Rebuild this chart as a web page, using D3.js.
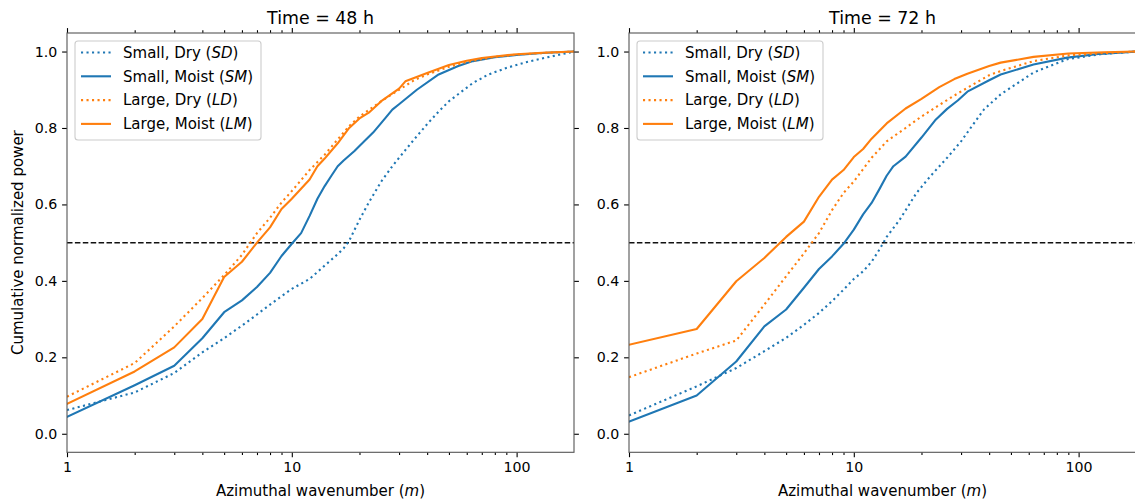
<!DOCTYPE html>
<html><head><meta charset="utf-8">
<script src="https://cdn.jsdelivr.net/npm/d3@7"></script>
<style>
body{margin:0;background:#fff}
svg{display:block}
text{font-family:"DejaVu Sans",sans-serif;fill:#000}
</style>
</head><body>
<svg id="c" width="1135" height="501"></svg>
<script>
// ---------- data ----------
const panelTitles = ["Time = 48 h", "Time = 72 h"];
const xTickLabels = ["1", "10", "100"];
const xMajorTicks = [1, 10, 100];
const xMinorTicks = [2,3,4,5,6,7,8,9,20,30,40,50,60,70,80,90];
const yTickValues = [0, 0.2, 0.4, 0.6, 0.8, 1.0];
const yTickLabels = ["0.0","0.2","0.4","0.6","0.8","1.0"];
const refLevel = 0.5;
const xLabel = "Azimuthal wavenumber (";
const yLabel = "Cumulative normalized power";
const seriesNames = ["Small, Dry", "Small, Moist", "Large, Dry", "Large, Moist"];
const seriesAbbr = ["SD", "SM", "LD", "LM"];

// Time = 48 h
const m48_SD = [1,2,3,4,5,6,7,8,9,10,12,14,16,17,18,20,22,25,28,30,35,40,45,50,64,75,90,110,126,150,180];
const v48_SD = [0.062,0.108,0.159,0.213,0.25,0.283,0.312,0.338,0.36,0.379,0.405,0.44,0.47,0.485,0.505,0.56,0.605,0.66,0.70,0.722,0.77,0.81,0.843,0.87,0.918,0.94,0.957,0.972,0.98,0.99,1.0];
const m48_SM = [1,2,3,4,5,6,7,8,9,10,11,12,13,14,15,16,17,19,21,23,26,28,30,36,45,55,64,80,100,130,180];
const v48_SM = [0.044,0.127,0.178,0.25,0.318,0.349,0.384,0.421,0.465,0.497,0.525,0.57,0.615,0.648,0.675,0.70,0.715,0.74,0.765,0.788,0.825,0.848,0.862,0.90,0.94,0.962,0.975,0.985,0.991,0.996,1.0];
const m48_LD = [1,2,3,4,5,6,7,8,9,10,12,14,16,18,20,25,30,35,40,50,60,70,80,100,130,180];
const v48_LD = [0.097,0.185,0.281,0.355,0.415,0.468,0.525,0.565,0.605,0.635,0.69,0.73,0.77,0.805,0.83,0.87,0.90,0.925,0.94,0.96,0.973,0.98,0.986,0.992,0.996,1.0];
const m48_LM = [1,2,3,4,5,6,7,8,9,10,12,13,14,16,18,20,22,25,30,32,40,50,60,70,80,100,130,180];
const v48_LM = [0.078,0.163,0.226,0.300,0.410,0.450,0.500,0.540,0.588,0.615,0.665,0.70,0.72,0.76,0.80,0.825,0.84,0.87,0.903,0.922,0.944,0.965,0.976,0.983,0.987,0.993,0.997,1.0];

// Time = 72 h
const m72_SD = [1,2,3,4,5,6,7,8,9,10,11,12,13,14,16,19,22,26,30,34,38,45,63,89,125,180];
const v72_SD = [0.048,0.124,0.172,0.216,0.251,0.285,0.316,0.347,0.377,0.405,0.425,0.45,0.482,0.515,0.56,0.63,0.675,0.722,0.765,0.81,0.849,0.888,0.945,0.98,0.993,1.0];
const m72_SM = [1,2,3,4,5,6,7,8,9,10,11,12,13,14,15,17,20,23,26,29,32,40,45,63,89,125,180];
const v72_SM = [0.032,0.10,0.189,0.281,0.325,0.382,0.431,0.464,0.497,0.534,0.574,0.604,0.64,0.675,0.70,0.725,0.775,0.82,0.85,0.872,0.895,0.925,0.94,0.966,0.984,0.994,1.0];
const m72_LD = [1,2,3,4,5,6,7,8,9,10,12,14,17,20,24,28,32,40,45,63,90,130,180];
const v72_LD = [0.148,0.21,0.244,0.338,0.412,0.472,0.525,0.585,0.63,0.66,0.722,0.765,0.80,0.83,0.86,0.885,0.905,0.938,0.949,0.975,0.99,0.996,1.0];
const m72_LM = [1,2,3,4,5,6,7,8,9,10,11,12,14,17,20,24,28,32,40,45,63,90,130,180];
const v72_LM = [0.233,0.274,0.399,0.46,0.515,0.555,0.62,0.665,0.69,0.724,0.745,0.772,0.812,0.851,0.876,0.907,0.928,0.942,0.962,0.971,0.986,0.995,0.998,1.0];

const panelSeries = [
  [[m48_SD, v48_SD], [m48_SM, v48_SM], [m48_LD, v48_LD], [m48_LM, v48_LM]],
  [[m72_SD, v72_SD], [m72_SM, v72_SM], [m72_LD, v72_LD], [m72_LM, v72_LM]]
];

// ---------- styles ----------
const colors = ["#1f77b4", "#1f77b4", "#ff7f0e", "#ff7f0e"];
const dashes = ["2.1,3.4", null, "2.1,3.4", null];
const lw = 2.1;
const panelLeft = [67, 629];
const panelW = 507;
const plotTop = 33, plotBottom = 452.3;
const xDomain = [1, 180];
const yDomain = [-0.0485, 1.0485];
const spineColor = "#555";
const tickFont = 14.2, labelFont = 15, titleFont = 17.4, legendFont = 15;

const svg = d3.select("#c");

panelTitles.forEach((title, p) => {
  const x0 = panelLeft[p];
  const x = d3.scaleLog().domain(xDomain).range([x0, x0 + panelW]);
  const y = d3.scaleLinear().domain(yDomain).range([plotBottom, plotTop]);
  const g = svg.append("g");

  const cid = "clip" + p;
  svg.append("clipPath").attr("id", cid).append("rect")
    .attr("x", x0).attr("y", plotTop).attr("width", panelW).attr("height", plotBottom - plotTop);

  g.append("line")
    .attr("x1", x0).attr("x2", x0 + panelW)
    .attr("y1", y(refLevel)).attr("y2", y(refLevel))
    .attr("stroke", "#111").attr("stroke-width", 1.5)
    .attr("stroke-dasharray", "5.5,2.4");

  const line = d3.line().x(d => x(d[0])).y(d => y(d[1]));
  panelSeries[p].forEach((s, i) => {
    const pts = s[0].map((m, k) => [m, s[1][k]]);
    g.append("path").datum(pts)
      .attr("d", line)
      .attr("fill", "none")
      .attr("stroke", colors[i])
      .attr("stroke-width", lw)
      .attr("stroke-dasharray", dashes[i])
      .attr("stroke-linejoin", "round")
      .attr("stroke-linecap", dashes[i] ? "butt" : "square")
      .attr("clip-path", `url(#${cid})`);
  });

  const fmtX = d => xTickLabels[xMajorTicks.indexOf(d)];
  const axB = g.append("g").attr("transform", `translate(0,${plotBottom})`)
    .call(d3.axisBottom(x).tickValues(xMajorTicks).tickFormat(fmtX).tickSizeInner(4.9).tickSizeOuter(0).tickPadding(4.9));
  const axBm = g.append("g").attr("transform", `translate(0,${plotBottom})`)
    .call(d3.axisBottom(x).tickValues(xMinorTicks).tickFormat("").tickSizeInner(2.8).tickSizeOuter(0));
  const axT = g.append("g").attr("transform", `translate(0,${plotTop})`)
    .call(d3.axisTop(x).tickValues(xMajorTicks).tickFormat("").tickSizeInner(4.9).tickSizeOuter(0));
  const axTm = g.append("g").attr("transform", `translate(0,${plotTop})`)
    .call(d3.axisTop(x).tickValues(xMinorTicks).tickFormat("").tickSizeInner(2.8).tickSizeOuter(0));
  const axL = g.append("g").attr("transform", `translate(${x0},0)`)
    .call(d3.axisLeft(y).tickValues(yTickValues).tickFormat((d, i) => yTickLabels[i]).tickSizeInner(4.9).tickSizeOuter(0).tickPadding(4.9));
  const axR = g.append("g").attr("transform", `translate(${x0 + panelW},0)`)
    .call(d3.axisRight(y).tickValues(yTickValues).tickFormat("").tickSizeInner(4.9).tickSizeOuter(0));
  [axB, axBm, axT, axTm, axL, axR].forEach(a => {
    a.select(".domain").remove();
    a.selectAll(".tick line").attr("stroke", "#000").attr("stroke-width", 1.1);
    a.selectAll(".tick text").attr("font-size", tickFont).attr("font-family", "DejaVu Sans").attr("fill", "#000");
  });

  g.append("rect").attr("x", x0).attr("y", plotTop).attr("width", panelW).attr("height", plotBottom - plotTop)
    .attr("fill", "none").attr("stroke", spineColor).attr("stroke-width", 1.1);

  g.append("text").attr("x", x0 + panelW / 2).attr("y", plotTop - 9)
    .attr("text-anchor", "middle").attr("font-size", titleFont).text(title);

  const xl = g.append("text").attr("x", x0 + panelW / 2).attr("y", 496)
    .attr("text-anchor", "middle").attr("font-size", labelFont);
  xl.append("tspan").text(xLabel);
  xl.append("tspan").attr("font-style", "italic").text("m");
  xl.append("tspan").text(")");

  if (p === 0) {
    g.append("text").attr("transform", `translate(23,${(plotTop + plotBottom) / 2}) rotate(-90)`)
      .attr("text-anchor", "middle").attr("font-size", labelFont).text(yLabel);
  }

  const lx = x0 + 8, ly = 41, lwid = 186, lh = 99;
  const lg = g.append("g");
  lg.append("rect").attr("x", lx).attr("y", ly).attr("width", lwid).attr("height", lh)
    .attr("rx", 3).attr("fill", "#fff").attr("fill-opacity", 0.8)
    .attr("stroke", "#ccc").attr("stroke-width", 1.1);
  seriesNames.forEach((name, i) => {
    const yy = 52.5 + i * 23.8;
    lg.append("line").attr("x1", lx + 6).attr("x2", lx + 36).attr("y1", yy).attr("y2", yy)
      .attr("stroke", colors[i]).attr("stroke-width", lw)
      .attr("stroke-dasharray", dashes[i]);
    const t = lg.append("text").attr("x", lx + 48).attr("y", yy + 5.3).attr("font-size", legendFont);
    t.append("tspan").text(name + " (");
    t.append("tspan").attr("font-style", "italic").text(seriesAbbr[i]);
    t.append("tspan").text(")");
  });
});
</script>
</body></html>
